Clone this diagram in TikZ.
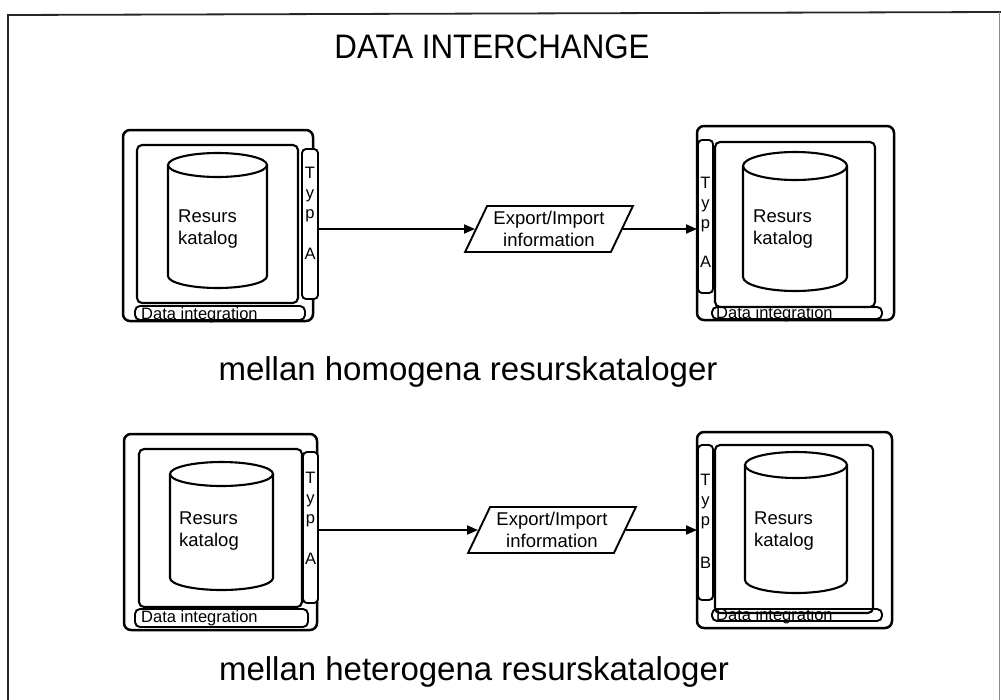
\documentclass[tikz,border=0pt]{standalone}
\usepackage{fontspec}
\setmainfont{Liberation Sans}
\usetikzlibrary{shapes.geometric,arrows.meta,fit}

\tikzset{
  frameline/.style={line width=1.8pt, draw=black!85},
  outerbox/.style={draw, line width=2.5pt, rounded corners=7pt, inner sep=0pt},
  innerbox/.style={draw, line width=2.1pt, rounded corners=5pt, inner sep=0pt},
  tabbox/.style={draw, line width=1.9pt, rounded corners=4pt, inner sep=0pt},
  barbox/.style={draw, line width=1.9pt, rounded corners=5pt, inner sep=0pt},
  drumline/.style={line width=2.1pt},
  cattext/.style={font=\fontsize{18.5}{22}\selectfont, align=left, inner sep=0pt},
  tabtext/.style={font=\fontsize{16.5}{20}\selectfont, align=center, inner sep=0pt, anchor=north},
  bartext/.style={font=\fontsize{16.5}{18}\selectfont, anchor=west, inner sep=0pt},
  flow/.style={draw, shape=trapezium, trapezium left angle=61, trapezium right angle=119,
    trapezium stretches=true, minimum width=168pt, minimum height=46pt, line width=1.9pt,
    font=\fontsize{18.5}{22}\selectfont, align=center, inner sep=0pt},
  link/.style={line width=1.9pt, -{Triangle[length=11pt,width=9pt]}},
  heading/.style={font=\fontsize{34}{38}\selectfont},
  caption/.style={font=\fontsize{33}{38}\selectfont},
}

% database drum: centre x, top ellipse y, bottom ellipse y, x radius, y radius
\newcommand\drum[5]{%
  \draw[drumline] (#1,#2) ellipse [x radius=#4pt, y radius=#5pt];
  \draw[drumline] ({#1-#4},#2) -- ({#1-#4},#3)
    arc [start angle=180, end angle=360, x radius=#4pt, y radius=#5pt]
    -- ({#1+#4},#2);
}

\begin{document}
\begin{tikzpicture}[x=1pt,y=-1pt]
\useasboundingbox (0,0) rectangle (1001,699);
\clip (0,0) rectangle (1001,699);

% page frame
\draw[frameline] (8,720) -- (8,15) -- (1001,12);
\draw[line width=1pt, draw=black!45] (999.5,12) -- (999.5,720);

\node[heading] (title) at (492,47) {\scalebox{0.92}[1]{DATA INTERCHANGE}};

% ---------- upper row ----------
\node[outerbox, fit={(123,130) (313,321)}] (TLout) {};
\node[innerbox, fit={(137,145) (298,303)}] (TLin) {};
\drum{217.5}{165}{276}{49.5}{12}
\node[cattext] (TLcat) at (208,229) {Resurs\\katalog};
\node[tabbox, fill=white, fit={(302,149) (318,299)}] (TLtab) {};
\node[tabtext] (TLtyp) at (310,167) {T\\y\\p\\[21pt]A};
\node[barbox, fit={(135,306) (305,320)}] (TLbar) {};
\node[bartext] at (141,315) {Data integration};

\node[outerbox, fit={(697,126) (894,320)}] (TRout) {};
\node[innerbox, fit={(715,142) (875,307)}] (TRin) {};
\drum{795}{166}{277}{52}{14}
\node[cattext] (TRcat) at (783,229) {Resurs\\katalog};
\node[tabbox, fill=white, fit={(698,140) (713,293)}] (TRtab) {};
\node[tabtext] (TRtyp) at (705.5,177) {T\\y\\p\\[19pt]A};
\node[barbox, fit={(712,307) (882,319)}] (TRbar) {};
\node[bartext] at (716,314) {Data integration};

\node[flow] (P1) at (549,229) {Export/Import\\information};
\draw[link] (TLtab.east |- P1.center) -- (P1);
\draw[link] (P1) -- (TRtab.west |- P1.center);

\node[caption] (cap1) at (468,372) {mellan homogena resurskataloger};

% ---------- lower row ----------
\node[outerbox, fit={(124,434) (317,630)}] (BLout) {};
\node[innerbox, fit={(139,449) (302,607)}] (BLin) {};
\drum{221.5}{474}{578}{51.5}{12}
\node[cattext] (BLcat) at (209,531) {Resurs\\katalog};
\node[tabbox, fill=white, fit={(303,452) (318,603)}] (BLtab) {};
\node[tabtext] (BLtyp) at (310.5,472) {T\\y\\p\\[21pt]A};
\node[barbox, fit={(135,609) (308,627)}] (BLbar) {};
\node[bartext] at (141,618) {Data integration};

\node[outerbox, fit={(697,432) (892,628)}] (BRout) {};
\node[innerbox, fit={(715,445) (873,613)}] (BRin) {};
\drum{796}{465}{580}{51}{13}
\node[cattext] (BRcat) at (784,531) {Resurs\\katalog};
\node[tabbox, fill=white, fit={(698,445) (713,600)}] (BRtab) {};
\node[tabtext] (BRtyp) at (705.5,474) {T\\y\\p\\[23pt]B};
\node[barbox, fit={(712,609) (882,621)}] (BRbar) {};
\node[bartext] at (716,616) {Data integration};

\node[flow] (P2) at (552,530) {Export/Import\\information};
\draw[link] (BLtab.east |- P2.center) -- (P2);
\draw[link] (P2) -- (BRtab.west |- P2.center);

\node[caption] (cap2) at (474,672) {mellan heterogena resurskataloger};
\end{tikzpicture}
\end{document}
